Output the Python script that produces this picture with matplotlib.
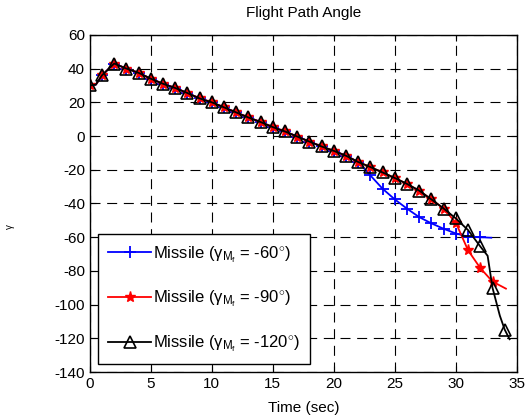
import numpy as np
import matplotlib
matplotlib.use("Agg")
import matplotlib.pyplot as plt

plt.rcParams['font.family'] = ['Liberation Sans', 'DejaVu Sans']
plt.rcParams['mathtext.fontset'] = 'custom'
plt.rcParams['mathtext.rm'] = 'Liberation Sans'
plt.rcParams['mathtext.it'] = 'Liberation Sans'
plt.rcParams['axes.unicode_minus'] = False

# shared part of the trajectory (all three missiles fly the same path until ~22 s)
t_common = [0, 0.5, 1, 2, 3, 4, 5, 6, 7, 8, 9, 10, 11, 12, 13, 14, 15, 16,
            17, 18, 19, 20, 21, 22]
gamma_common = [30, 30.5, 36, 43, 40, 37.5, 34, 31, 28.5, 25.5, 22.3, 20, 17,
                14, 11, 8.3, 5.3, 2.7, -0.3, -3.3, -6.2, -8.8, -11.7, -15.4]

# gamma_Mf = -60 deg
t_60 = t_common + [23, 24, 25, 26, 27, 28, 29, 30, 31, 32, 32.9]
gamma_60 = gamma_common + [-23.4, -31.3, -37.6, -43.1, -48.1, -51.8, -55.0,
                           -57.8, -59.7, -60.0, -60.3]

# gamma_Mf = -90 deg
t_90 = t_common + [23, 24, 25, 26, 27, 28, 29, 30, 31, 32, 33, 34.1]
gamma_90 = gamma_common + [-18.4, -21.6, -24.9, -28.4, -32.4, -37.6, -43.0,
                           -51.5, -67.8, -78.3, -86.3, -90.5]

# gamma_Mf = -120 deg
t_120 = t_common + [23, 24, 25, 26, 27, 28, 29, 30, 31, 32, 32.6, 33, 33.6,
                    34, 34.4]
gamma_120 = gamma_common + [-18.4, -21.6, -24.9, -28.4, -32.4, -37.6, -43.0,
                            -48.9, -55.8, -65.5, -71.0, -90.0, -106.5,
                            -114.8, -120.5]

labels = [r'Missile ($\gamma_{M_f}$ = -60$^{\circ}$)',
          r'Missile ($\gamma_{M_f}$ = -90$^{\circ}$)',
          r'Missile ($\gamma_{M_f}$ = -120$^{\circ}$)']


def whole_seconds(t):
    # markers only at integer sample times
    t = np.asarray(t, dtype=float)
    return list(np.isclose(t, np.round(t)))


fig = plt.figure(figsize=(5.28, 4.2), dpi=100)
ax = fig.add_axes([0.170, 0.114, 0.809, 0.803])

ax.plot(t_60, gamma_60, color='blue', lw=1.3, marker='+', ms=8, mew=1.3,
        markevery=whole_seconds(t_60), label=labels[0])
ax.plot(t_90, gamma_90, color='red', lw=1.3, marker='*', ms=8,
        markevery=whole_seconds(t_90), label=labels[1])
ax.plot(t_120, gamma_120, color='black', lw=1.3, marker='^', ms=8, mew=1.2,
        mfc='none', markevery=whole_seconds(t_120), label=labels[2])

ax.set_xlim(0, 35)
ax.set_ylim(-140, 60)
ax.set_xticks(np.arange(0, 36, 5))
ax.set_yticks(np.arange(-140, 61, 20))
ax.tick_params(direction='in', top=True, right=True, labelsize=11, length=4)
ax.grid(True, color='black', lw=0.8, ls=(0, (9, 6)))
for s in ax.spines.values():
    s.set_linewidth(1.0)

ax.set_title('Flight Path Angle', fontsize=11, pad=13)
ax.set_xlabel('Time (sec)', fontsize=11, labelpad=7)
ax.set_ylabel(r'$\gamma$', fontsize=7)
ax.yaxis.set_label_coords(-0.17, 0.433)

leg = ax.legend(loc='lower left', bbox_to_anchor=(0.019, 0.024), fontsize=12,
                fancybox=False, edgecolor='black', framealpha=1,
                handlelength=2.6, handletextpad=0.1, labelspacing=1.45,
                borderpad=0.6, borderaxespad=0)
leg.get_frame().set_linewidth(1.0)

fig.savefig('out.png', dpi=100)
